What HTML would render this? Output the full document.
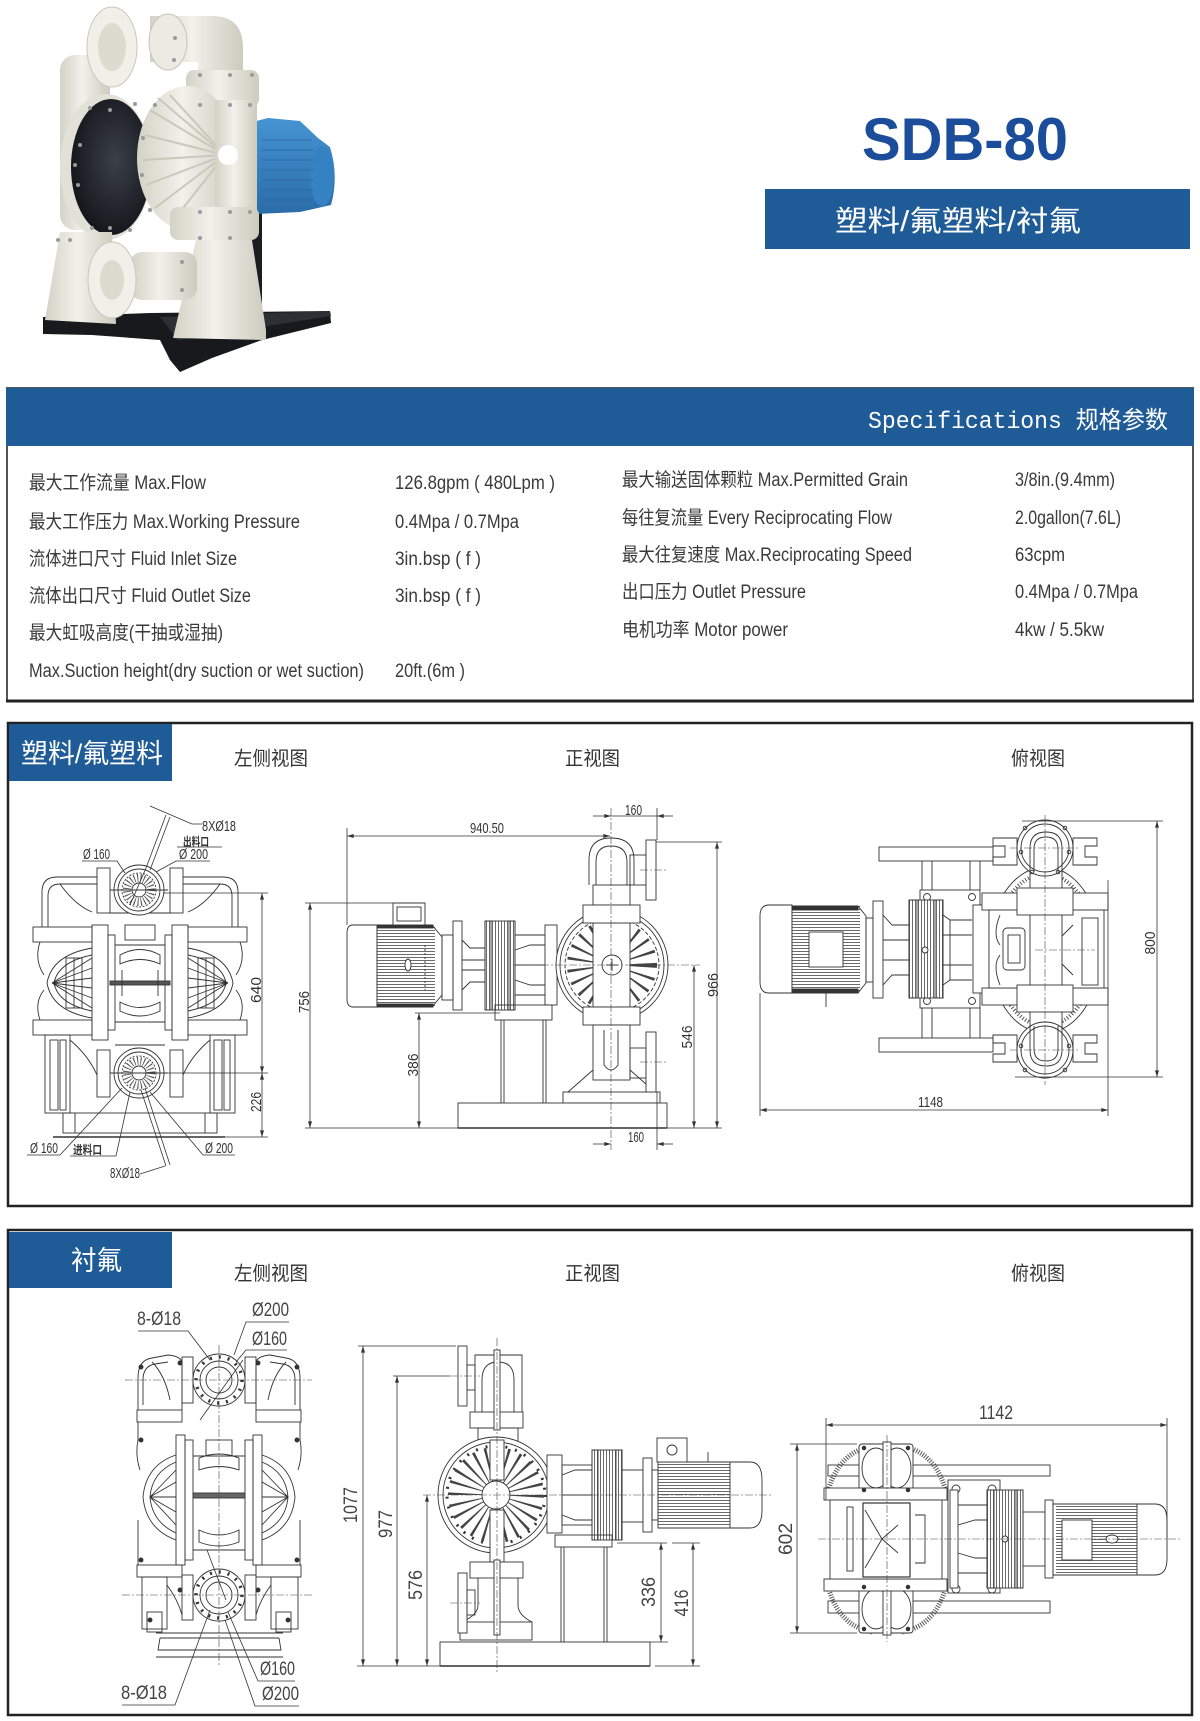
<!DOCTYPE html>
<html><head><meta charset="utf-8">
<style>
html,body{margin:0;padding:0;background:#fff;}
svg{display:block;}
.f{font-family:"Liberation Sans","Noto Sans CJK SC",sans-serif;}
.m{font-family:"Liberation Mono","Noto Sans CJK SC",monospace;}
.ln{stroke:#333;stroke-width:0.9;fill:none;}
.lw{stroke:#333;stroke-width:0.9;fill:#fff;}
.dm{stroke:#333;stroke-width:0.8;fill:none;}
.cl{stroke:#444;stroke-width:0.6;fill:none;stroke-dasharray:8 2 2 2;}
.d1{font-size:15px;fill:#333;}
.d2{font-size:19px;fill:#444;}
.sp{font-size:19px;fill:#3a3a3a;}
</style></head>
<body>
<svg width="1200" height="1721" viewBox="0 0 1200 1721" xmlns="http://www.w3.org/2000/svg">
<defs>
<marker id="ar" viewBox="0 0 10 6" refX="10" refY="3" markerWidth="8" markerHeight="4" orient="auto-start-reverse" markerUnits="userSpaceOnUse"><path d="M0,0 L10,3 L0,6 z" fill="#333"/></marker>
<pattern id="hf" width="6" height="3" patternUnits="userSpaceOnUse"><rect width="6" height="3" fill="#fff"/><line x1="0" y1="0.5" x2="6" y2="0.5" stroke="#444" stroke-width="0.8"/></pattern>
<pattern id="vf" width="3" height="6" patternUnits="userSpaceOnUse"><rect width="3" height="6" fill="#fff"/><line x1="0.5" y1="0" x2="0.5" y2="6" stroke="#444" stroke-width="0.8"/></pattern>
<linearGradient id="cream" x1="0" x2="1" y1="0" y2="0"><stop offset="0" stop-color="#d2d2c6"/><stop offset="0.45" stop-color="#f2f1ea"/><stop offset="1" stop-color="#cbcbbe"/></linearGradient>
<linearGradient id="creamv" x1="0" x2="0" y1="0" y2="1"><stop offset="0" stop-color="#eeede5"/><stop offset="1" stop-color="#cfcfc3"/></linearGradient>
<linearGradient id="blue" x1="0" x2="0" y1="0" y2="1"><stop offset="0" stop-color="#4594d2"/><stop offset="1" stop-color="#2a6ca8"/></linearGradient>
<radialGradient id="blk" cx="0.55" cy="0.45" r="0.6"><stop offset="0" stop-color="#3b4049"/><stop offset="1" stop-color="#121418"/></radialGradient>
</defs>

<rect width="1200" height="1721" fill="#fff"/>

<!-- ============ PRODUCT PHOTO ============ -->
<g>
<polygon fill="#17191c" points="43,317 150,313 330,311 331,323 262,340 212,358 180,372 170,360 160,340 92,335 43,334"/>
<polygon fill="#2c2f34" points="160,317 330,311 331,316 178,340"/>
<rect x="243" y="205" width="19" height="115" fill="#1b1d20"/>
<path d="M237,126 L268,118 L300,121 L318,138 L330,147 Q339,176 331,205 L300,212 L256,214 L237,210 Z" fill="url(#blue)"/>
<ellipse cx="322" cy="176" rx="12" ry="30" fill="#3582c2"/>
<g stroke="#2a66a0" stroke-width="0.8"><line x1="262" y1="140" x2="312" y2="140"/><line x1="262" y1="150" x2="314" y2="150"/><line x1="262" y1="160" x2="314" y2="160"/><line x1="262" y1="170" x2="314" y2="170"/><line x1="262" y1="180" x2="314" y2="180"/><line x1="262" y1="190" x2="314" y2="190"/><line x1="262" y1="200" x2="312" y2="200"/></g>
<rect x="60" y="55" width="50" height="175" rx="15" fill="url(#cream)"/>
<path d="M150,16 H212 Q243,16 243,48 V82 H198 V62 H150 Z" fill="url(#cream)"/>
<ellipse cx="168" cy="42" rx="19" ry="28" fill="#ecebe3" stroke="#c4c4b8"/>
<ellipse cx="112" cy="47" rx="25" ry="40" fill="#f0efe8" stroke="#c8c8bc"/>
<ellipse cx="112" cy="47" rx="14" ry="24" fill="#dcdbcf"/>
<rect x="186" y="70" width="73" height="37" rx="8" fill="url(#cream)"/>
<ellipse cx="106" cy="167" rx="46" ry="73" fill="#e2e1d7"/>
<ellipse cx="111" cy="167" rx="40" ry="68" fill="url(#blk)"/>
<ellipse cx="187" cy="158" rx="50" ry="72" fill="url(#cream)"/>
<g stroke="#c9c8bb" stroke-width="2"><line x1="225" y1="155" x2="150" y2="110"/><line x1="225" y1="155" x2="145" y2="135"/><line x1="225" y1="155" x2="143" y2="160"/><line x1="225" y1="155" x2="146" y2="185"/><line x1="225" y1="155" x2="155" y2="208"/><line x1="225" y1="155" x2="170" y2="95"/><line x1="225" y1="155" x2="172" y2="222"/><line x1="225" y1="155" x2="158" y2="98"/></g>
<rect x="215" y="100" width="42" height="135" fill="url(#cream)"/>
<circle cx="228" cy="155" r="10" fill="#fff"/>
<rect x="170" y="207" width="89" height="33" rx="8" fill="url(#cream)"/>
<polygon points="45,320 60,232 112,232 116,324" fill="url(#cream)"/>
<polygon points="173,338 196,240 252,240 266,330 266,340" fill="url(#cream)"/>
<rect x="130" y="252" width="67" height="48" rx="12" fill="url(#cream)"/>
<ellipse cx="112" cy="280" rx="24" ry="38" fill="#f0efe8" stroke="#c8c8bc"/>
<ellipse cx="112" cy="280" rx="12" ry="20" fill="#dcdbcf"/>
<g fill="#9a9a9a"><circle cx="175" cy="38" r="2"/><circle cx="174" cy="60" r="2"/><circle cx="200" cy="75" r="2"/><circle cx="230" cy="75" r="2"/><circle cx="252" cy="75" r="2"/><circle cx="200" cy="105" r="2"/><circle cx="230" cy="105" r="2"/><circle cx="250" cy="105" r="2"/><circle cx="155" cy="105" r="2"/><circle cx="143" cy="138" r="2"/><circle cx="142" cy="175" r="2"/><circle cx="150" cy="210" r="2"/><circle cx="110" cy="110" r="2"/><circle cx="80" cy="145" r="2"/><circle cx="78" cy="185" r="2"/><circle cx="110" cy="228" r="2"/><circle cx="200" cy="212" r="2"/><circle cx="230" cy="212" r="2"/><circle cx="250" cy="212" r="2"/><circle cx="200" cy="238" r="2"/><circle cx="230" cy="238" r="2"/><circle cx="182" cy="262" r="2"/><circle cx="182" cy="290" r="2"/><circle cx="58" cy="240" r="2"/><circle cx="70" cy="240" r="2"/><circle cx="90" cy="108" r="2"/><circle cx="75" cy="165" r="2"/><circle cx="92" cy="228" r="2"/><circle cx="130" cy="230" r="2"/><circle cx="135" cy="104" r="2"/></g>
</g>

<!-- ============ TITLE ============ -->
<text x="862" y="160" class="f" font-size="60" font-weight="bold" fill="#1b4d9a" textLength="206" lengthAdjust="spacingAndGlyphs">SDB-80</text>
<rect x="765" y="189" width="425" height="60" fill="#1f5b97"/>
<text x="835" y="231" class="f" font-size="29" fill="#fff" textLength="246" lengthAdjust="spacingAndGlyphs">塑料/氟塑料/衬氟</text>

<!-- ============ SPECIFICATIONS ============ -->
<rect x="7" y="388" width="1186" height="313" fill="#fff" stroke="#555" stroke-width="2"/>
<rect x="6" y="388" width="1188" height="58" fill="#1f5b97"/>
<line x1="6" y1="701" x2="1194" y2="701" stroke="#222" stroke-width="3"/>
<text x="868" y="428" class="m" font-size="24" fill="#fff" textLength="300" lengthAdjust="spacingAndGlyphs">Specifications 规格参数</text>

<g class="f sp">
<text x="29" y="489" textLength="177" lengthAdjust="spacingAndGlyphs">最大工作流量 Max.Flow</text>
<text x="29" y="528" textLength="271" lengthAdjust="spacingAndGlyphs">最大工作压力 Max.Working Pressure</text>
<text x="29" y="565" textLength="208" lengthAdjust="spacingAndGlyphs">流体进口尺寸 Fluid Inlet Size</text>
<text x="29" y="602" textLength="222" lengthAdjust="spacingAndGlyphs">流体出口尺寸 Fluid Outlet Size</text>
<text x="29" y="639" textLength="194" lengthAdjust="spacingAndGlyphs">最大虹吸高度(干抽或湿抽)</text>
<text x="29" y="677" textLength="335" lengthAdjust="spacingAndGlyphs">Max.Suction height(dry suction or wet suction)</text>
<text x="395" y="489" textLength="160" lengthAdjust="spacingAndGlyphs">126.8gpm ( 480Lpm )</text>
<text x="395" y="528" textLength="124" lengthAdjust="spacingAndGlyphs">0.4Mpa / 0.7Mpa</text>
<text x="395" y="565" textLength="86" lengthAdjust="spacingAndGlyphs">3in.bsp ( f )</text>
<text x="395" y="602" textLength="86" lengthAdjust="spacingAndGlyphs">3in.bsp ( f )</text>
<text x="395" y="677" textLength="70" lengthAdjust="spacingAndGlyphs">20ft.(6m )</text>
<text x="622" y="486" textLength="286" lengthAdjust="spacingAndGlyphs">最大输送固体颗粒 Max.Permitted Grain</text>
<text x="622" y="524" textLength="270" lengthAdjust="spacingAndGlyphs">每往复流量 Every Reciprocating Flow</text>
<text x="622" y="561" textLength="290" lengthAdjust="spacingAndGlyphs">最大往复速度 Max.Reciprocating Speed</text>
<text x="622" y="598" textLength="184" lengthAdjust="spacingAndGlyphs">出口压力 Outlet Pressure</text>
<text x="622" y="636" textLength="166" lengthAdjust="spacingAndGlyphs">电机功率 Motor power</text>
<text x="1015" y="486" textLength="100" lengthAdjust="spacingAndGlyphs">3/8in.(9.4mm)</text>
<text x="1015" y="524" textLength="106" lengthAdjust="spacingAndGlyphs">2.0gallon(7.6L)</text>
<text x="1015" y="561" textLength="50" lengthAdjust="spacingAndGlyphs">63cpm</text>
<text x="1015" y="598" textLength="123" lengthAdjust="spacingAndGlyphs">0.4Mpa / 0.7Mpa</text>
<text x="1015" y="636" textLength="89" lengthAdjust="spacingAndGlyphs">4kw / 5.5kw</text>
</g>

<!-- ============ SECTION 1 FRAME ============ -->
<rect x="8" y="723" width="1184" height="483" fill="#fff" stroke="#222" stroke-width="2.5"/>
<rect x="9" y="724" width="163" height="57" fill="#1f5b97"/>
<text x="21" y="763" class="f" font-size="27" fill="#fff" textLength="142" lengthAdjust="spacingAndGlyphs">塑料/氟塑料</text>
<g class="f" font-size="19.5" fill="#333">
<text x="234" y="765" textLength="74" lengthAdjust="spacingAndGlyphs">左侧视图</text>
<text x="565" y="765" textLength="55" lengthAdjust="spacingAndGlyphs">正视图</text>
<text x="1011" y="765" textLength="54" lengthAdjust="spacingAndGlyphs">俯视图</text>
</g>

<!-- ---- S1 left view ---- -->
<g class="ln">
<path d="M42,927 V892 Q42,877 57,877 H97"/>
<path d="M48,927 V896 Q48,884 60,884 H97"/>
<path d="M238,927 V892 Q238,877 223,877 H183"/>
<path d="M232,927 V896 Q232,884 220,884 H183"/>
<path d="M60,884 Q75,905 92,912"/><path d="M220,884 Q205,905 188,912"/>
<rect x="33" y="927" width="59" height="15"/>
<rect x="188" y="927" width="59" height="15"/>
<rect x="33" y="1020" width="59" height="15"/>
<rect x="188" y="1020" width="59" height="15"/>
<path d="M40,942 Q34,960 44,975 M40,1020 Q34,1002 44,990"/>
<path d="M240,942 Q246,960 236,975 M240,1020 Q246,1002 236,990"/>
<rect x="92" y="925" width="16" height="115"/>
<rect x="172" y="925" width="16" height="115"/>
<rect x="108" y="935" width="7" height="95"/>
<rect x="165" y="935" width="7" height="95"/>
<rect x="97" y="868" width="13" height="45"/>
<rect x="170" y="868" width="13" height="45"/>
<rect x="97" y="1050" width="13" height="47"/>
<rect x="170" y="1050" width="13" height="47"/>
<path d="M110,913 H170 M115,1045 H165"/>
<rect x="125" y="925" width="30" height="15"/>
<line x1="115" y1="945" x2="165" y2="945"/><line x1="115" y1="1022" x2="165" y2="1022"/>
<path d="M120,955 Q140,944 160,955 V964 Q140,955 120,964 Z"/>
<path d="M120,1002 Q140,1013 160,1002 V1011 Q140,1021 120,1011 Z"/>
<rect x="110" y="981" width="60" height="4" fill="#555"/>
<line x1="122" y1="970" x2="122" y2="996"/><line x1="158" y1="970" x2="158" y2="996"/>
<path d="M92,948 Q52,955 47,983 Q52,1011 92,1018"/>
<path d="M92,955 Q58,962 54,983 Q58,1004 92,1011"/>
<path d="M52,983 L92,958 M52,983 L92,968 M52,983 L92,978 M52,983 L92,988 M52,983 L92,998 M52,983 L92,1008"/>
<rect x="66" y="958" width="16" height="50"/>
<line x1="74" y1="958" x2="74" y2="1008"/>
<path d="M188,948 Q228,955 233,983 Q228,1011 188,1018"/>
<path d="M188,955 Q222,962 226,983 Q222,1004 188,1011"/>
<path d="M228,983 L188,958 M228,983 L188,968 M228,983 L188,978 M228,983 L188,988 M228,983 L188,998 M228,983 L188,1008"/>
<rect x="198" y="958" width="16" height="50"/>
<line x1="206" y1="958" x2="206" y2="1008"/>
<rect x="45" y="1035" width="25" height="78"/>
<rect x="50" y="1040" width="8" height="70"/><rect x="60" y="1040" width="6" height="70"/>
<rect x="210" y="1035" width="25" height="78"/>
<rect x="214" y="1040" width="8" height="70"/><rect x="224" y="1040" width="6" height="70"/>
<path d="M70,1040 Q88,1055 97,1075 M210,1040 Q192,1055 183,1075"/>
<rect x="63" y="1113" width="154" height="20"/>
<line x1="53" y1="1137" x2="225" y2="1137" stroke-width="1.4"/>
<line x1="75" y1="1113" x2="75" y2="1133"/><line x1="205" y1="1113" x2="205" y2="1133"/>
</g>
<g class="ln">
<circle cx="139" cy="890" r="25" fill="#fff"/>
<circle cx="139" cy="890" r="21"/>
<circle cx="139" cy="890" r="17" stroke-dasharray="2 1.5"/>
<circle cx="139" cy="890" r="12" stroke="#555" stroke-width="8" stroke-dasharray="1 2.2"/>
<circle cx="139" cy="890" r="7"/>
<line x1="110" y1="890" x2="168" y2="890"/>
<circle cx="139" cy="1073" r="25" fill="#fff"/>
<circle cx="139" cy="1073" r="21"/>
<circle cx="139" cy="1073" r="17" stroke-dasharray="2 1.5"/>
<circle cx="139" cy="1073" r="12" stroke="#555" stroke-width="8" stroke-dasharray="1 2.2"/>
<circle cx="139" cy="1073" r="7"/>
<line x1="110" y1="1073" x2="168" y2="1073"/>
</g>
<g class="dm">
<line x1="163" y1="893" x2="268" y2="893"/>
<line x1="163" y1="1073" x2="268" y2="1073"/>
<line x1="223" y1="1137" x2="268" y2="1137"/>
<line x1="262" y1="893" x2="262" y2="1073" marker-start="url(#ar)" marker-end="url(#ar)"/>
<line x1="262" y1="1073" x2="262" y2="1137" marker-start="url(#ar)" marker-end="url(#ar)"/>
<path d="M150,806 L192,824 H202"/>
<line x1="166" y1="815" x2="146" y2="868"/><line x1="170" y1="817" x2="150" y2="870"/>
<line x1="146" y1="868" x2="130" y2="905"/>
<path d="M177,847 H222"/>
<path d="M82,861 H117 L125,873"/>
<path d="M210,861 H176 L156,872"/>
<path d="M27,1155 H60 L122,1088"/>
<path d="M70,1156 H116 L130,1092"/>
<path d="M235,1155 H203 L150,1092"/>
<path d="M140,1174 L165,1166"/>
<line x1="166" y1="1166" x2="141" y2="1090"/><line x1="170" y1="1165" x2="145" y2="1088"/>
</g>
<g class="f d1">
<text x="202" y="831" textLength="34" lengthAdjust="spacingAndGlyphs">8XØ18</text>
<text x="183" y="846" font-size="12" font-weight="bold" textLength="26" lengthAdjust="spacingAndGlyphs">出料口</text>
<text x="83" y="859" textLength="27" lengthAdjust="spacingAndGlyphs">Ø 160</text>
<text x="179" y="859" textLength="29" lengthAdjust="spacingAndGlyphs">Ø 200</text>
<text x="30" y="1153" textLength="28" lengthAdjust="spacingAndGlyphs">Ø 160</text>
<text x="73" y="1154" font-size="12" font-weight="bold" textLength="29" lengthAdjust="spacingAndGlyphs">进料口</text>
<text x="205" y="1153" textLength="28" lengthAdjust="spacingAndGlyphs">Ø 200</text>
<text x="110" y="1178" textLength="30" lengthAdjust="spacingAndGlyphs">8XØ18</text>
<text transform="translate(261,990) rotate(-90)" text-anchor="middle" textLength="26" lengthAdjust="spacingAndGlyphs">640</text>
<text transform="translate(261,1102) rotate(-90)" text-anchor="middle" textLength="20" lengthAdjust="spacingAndGlyphs">226</text>
</g>

<!-- ---- S1 front view ---- -->
<g class="ln">
<path d="M377,925 H353 Q347,925 347,933 V999 Q347,1007 353,1007 H377 Z" fill="#fff"/>
<rect x="377" y="925" width="58" height="82" fill="url(#hf)" stroke="none"/>
<path d="M377,925 H432 L442,937 V995 L432,1007 H377 Z"/>
<rect x="377" y="925" width="56" height="3" fill="#333"/>
<rect x="377" y="1004" width="56" height="3" fill="#333"/>
<rect x="393" y="903" width="32" height="22" fill="#fff"/>
<rect x="397" y="907" width="24" height="14"/>
<ellipse cx="408" cy="965" rx="3" ry="6" fill="#fff"/>
<path d="M425,945 V990" stroke-dasharray="2 2"/>
<rect x="442" y="935" width="11" height="65"/>
<rect x="453" y="921" width="9" height="89"/>
<path d="M462,940 L470,948 H485 M462,990 L470,982 H485 M462,960 H485 M462,970 H485"/>
<rect x="485" y="921" width="30" height="89" fill="url(#vf)"/>
<rect x="485" y="921" width="6" height="89"/><rect x="509" y="921" width="6" height="89"/>
<path d="M515,935 H545 M515,995 H545 M515,950 L530,945 H545 M515,980 L530,985 H545 M515,965 H545"/>
<rect x="545" y="925" width="12" height="80"/>
<rect x="495" y="1005" width="57" height="15"/>
<line x1="501" y1="1020" x2="501" y2="1103"/><line x1="504" y1="1020" x2="504" y2="1103"/>
<line x1="543" y1="1020" x2="543" y2="1103"/><line x1="546" y1="1020" x2="546" y2="1103"/>
<circle cx="612" cy="965" r="56" fill="#fff"/>
<circle cx="612" cy="965" r="52"/>
<circle cx="612" cy="965" r="47" stroke-dasharray="4 2"/>
<circle cx="612" cy="965" r="28" stroke="#444" stroke-width="34" stroke-dasharray="1.8 6.5"/>
<circle cx="612" cy="965" r="11" fill="#fff"/>
<rect x="593" y="923" width="37" height="84" fill="#fff"/>
<circle cx="612" cy="965" r="10"/>
<path d="M606,965 H618 M612,959 V971"/>
<path d="M589,885 V860 Q589,838 611,838 Q634,838 634,860 V885" fill="#fff"/>
<path d="M596,885 V862 Q596,846 611,846 Q627,846 627,862 V885"/>
<rect x="593" y="885" width="37" height="20" fill="#fff"/>
<rect x="583" y="905" width="57" height="18" fill="#fff"/>
<rect x="583" y="1007" width="57" height="18" fill="#fff"/>
<rect x="593" y="1025" width="37" height="55" fill="#fff"/>
<path d="M604,1030 V1065 Q611,1075 618,1065 V1030"/>
<path d="M593,1070 L568,1092 M630,1070 L655,1092"/>
<rect x="563" y="1092" width="97" height="11" fill="#fff"/>
<rect x="630" y="855" width="16" height="30"/>
<rect x="646" y="840" width="10" height="60" fill="#fff"/>
<rect x="630" y="1048" width="16" height="30"/>
<rect x="646" y="1032" width="10" height="60" fill="#fff"/>
<rect x="458" y="1103" width="209" height="25" fill="#fff"/>
<line x1="458" y1="1128" x2="667" y2="1128" stroke-width="1.5"/>
</g>
<g class="cl"><line x1="611" y1="808" x2="611" y2="1150"/><line x1="513" y1="965" x2="700" y2="965"/><line x1="640" y1="870" x2="668" y2="870"/><line x1="640" y1="1062" x2="668" y2="1062"/></g>
<g class="dm">
<line x1="347" y1="828" x2="347" y2="925"/>
<line x1="347" y1="836" x2="610" y2="836" marker-start="url(#ar)" marker-end="url(#ar)"/>
<line x1="657" y1="808" x2="657" y2="840"/>
<line x1="593" y1="816" x2="611" y2="816" marker-end="url(#ar)"/>
<line x1="673" y1="816" x2="657" y2="816" marker-end="url(#ar)"/>
<line x1="611" y1="816" x2="657" y2="816"/>
<line x1="305" y1="903" x2="423" y2="903"/>
<line x1="305" y1="1128" x2="458" y2="1128"/>
<line x1="667" y1="1128" x2="722" y2="1128"/>
<line x1="310" y1="903" x2="310" y2="1128" marker-start="url(#ar)" marker-end="url(#ar)"/>
<line x1="415" y1="1013" x2="500" y2="1013"/>
<line x1="419" y1="1013" x2="419" y2="1128" marker-start="url(#ar)" marker-end="url(#ar)"/>
<line x1="656" y1="842" x2="722" y2="842"/>
<line x1="717" y1="842" x2="717" y2="1128" marker-start="url(#ar)" marker-end="url(#ar)"/>
<line x1="694" y1="965" x2="694" y2="1128" marker-start="url(#ar)" marker-end="url(#ar)"/>
<line x1="657" y1="1092" x2="657" y2="1150"/>
<line x1="593" y1="1144" x2="611" y2="1144" marker-end="url(#ar)"/>
<line x1="673" y1="1144" x2="657" y2="1144" marker-end="url(#ar)"/>
</g>
<g class="f d1">
<text x="470" y="833" textLength="34" lengthAdjust="spacingAndGlyphs">940.50</text>
<text x="625" y="815" textLength="17" lengthAdjust="spacingAndGlyphs">160</text>
<text x="628" y="1142" textLength="16" lengthAdjust="spacingAndGlyphs">160</text>
<text transform="translate(309,1002) rotate(-90)" text-anchor="middle" textLength="22" lengthAdjust="spacingAndGlyphs">756</text>
<text transform="translate(418,1065) rotate(-90)" text-anchor="middle" textLength="23" lengthAdjust="spacingAndGlyphs">386</text>
<text transform="translate(692,1037) rotate(-90)" text-anchor="middle" textLength="23" lengthAdjust="spacingAndGlyphs">546</text>
<text transform="translate(718,985) rotate(-90)" text-anchor="middle" textLength="24" lengthAdjust="spacingAndGlyphs">966</text>
</g>

<!-- ---- S1 top view ---- -->
<g class="ln">
<rect x="879" y="847" width="114" height="14"/>
<rect x="879" y="1038" width="114" height="14"/>
<path d="M922,861 V890 M932,861 V890 M970,861 V890 M980,861 V890 M922,1008 V1038 M932,1008 V1038 M970,1008 V1038 M980,1008 V1038"/>
<path d="M792,905 H769 Q760,905 760,916 V982 Q760,993 769,993 H792 Z" fill="#fff"/>
<rect x="792" y="906" width="68" height="87" fill="url(#hf)" stroke="none"/>
<path d="M792,906 H858 L866,916 V983 L858,993 H792 Z"/>
<rect x="792" y="906" width="66" height="4" fill="#333"/>
<rect x="792" y="989" width="66" height="4" fill="#333"/>
<rect x="809" y="932" width="34" height="35" fill="#fff"/>
<line x1="826" y1="993" x2="826" y2="1007"/>
<rect x="866" y="918" width="7" height="64"/>
<rect x="873" y="901" width="10" height="97" fill="#fff"/>
<path d="M883,915 L892,925 H909 M883,985 L892,975 H909 M883,940 H909 M883,960 H909"/>
<rect x="920" y="890" width="60" height="118" fill="#fff"/>
<circle cx="927" cy="897" r="3.5"/><circle cx="972" cy="897" r="3.5"/><circle cx="927" cy="1001" r="3.5"/><circle cx="972" cy="1001" r="3.5"/>
<path d="M943,915 L950,920 H972 M943,985 L950,980 H972 M943,935 H972 M943,965 H972 M950,920 V980"/>
<rect x="909" y="900" width="34" height="98" fill="url(#vf)"/>
<rect x="909" y="900" width="8" height="98"/><rect x="935" y="900" width="8" height="98"/>
<circle cx="925" cy="950" r="3" fill="#fff"/>
<ellipse cx="1045" cy="950" rx="56" ry="83"/>
<ellipse cx="1045" cy="950" rx="50" ry="76" stroke="#555" stroke-width="4" stroke-dasharray="1 2"/>
<rect x="973" y="905" width="16" height="88" fill="#fff"/>
<rect x="982" y="893" width="126" height="17" fill="#fff"/>
<rect x="982" y="988" width="126" height="17" fill="#fff"/>
<rect x="989" y="910" width="115" height="78" fill="#fff"/>
<path d="M1000,915 Q992,935 1000,945 M1000,985 Q992,965 1000,955"/>
<rect x="1003" y="928" width="22" height="42" rx="4"/>
<rect x="1008" y="935" width="12" height="28"/>
<rect x="1082" y="918" width="16" height="67"/>
<path d="M1073,925 L1048,950 L1073,975 M1062,925 L1048,950 L1062,975"/>
<rect x="1030" y="832" width="32" height="236" fill="#fff"/>
<rect x="1017" y="888" width="56" height="27" fill="#fff"/>
<rect x="1017" y="985" width="56" height="27" fill="#fff"/>
<path d="M993,838 H1017 V865 H993 V857 H1005 V846 H993 Z"/>
<path d="M1097,838 H1073 V865 H1097 V857 H1085 V846 H1097 Z"/>
<path d="M993,1035 H1017 V1062 H993 V1054 H1005 V1043 H993 Z"/>
<path d="M1097,1035 H1073 V1062 H1097 V1054 H1085 V1043 H1097 Z"/>
<circle cx="1045" cy="848" r="28" fill="#fff"/>
<circle cx="1045" cy="848" r="24"/>
<path d="M1030,872 V848 Q1030,832 1046,832 Q1062,832 1062,848 V872"/>
<path d="M1034,872 V849 Q1034,837 1046,837 Q1058,837 1058,849 V872"/>
<circle cx="1025" cy="828" r="1.8"/><circle cx="1065" cy="828" r="1.8"/><circle cx="1021" cy="852" r="1.8"/><circle cx="1069" cy="852" r="1.8"/><circle cx="1032" cy="872" r="1.8"/><circle cx="1058" cy="872" r="1.8"/>
<circle cx="1045" cy="1050" r="28" fill="#fff"/>
<circle cx="1045" cy="1050" r="24"/>
<path d="M1030,1026 V1050 Q1030,1066 1046,1066 Q1062,1066 1062,1050 V1026"/>
<path d="M1034,1026 V1049 Q1034,1061 1046,1061 Q1058,1061 1058,1049 V1026"/>
<circle cx="1025" cy="1070" r="1.8"/><circle cx="1065" cy="1070" r="1.8"/><circle cx="1021" cy="1046" r="1.8"/><circle cx="1069" cy="1046" r="1.8"/>
</g>
<g class="cl"><line x1="1045" y1="815" x2="1045" y2="1085"/><line x1="1035" y1="950" x2="1095" y2="950"/><line x1="1010" y1="848" x2="1080" y2="848"/><line x1="1010" y1="1050" x2="1080" y2="1050"/></g>
<g class="dm">
<line x1="1022" y1="821" x2="1163" y2="821"/>
<line x1="1015" y1="1077" x2="1163" y2="1077"/>
<line x1="1157" y1="821" x2="1157" y2="1077" marker-start="url(#ar)" marker-end="url(#ar)"/>
<line x1="760" y1="993" x2="760" y2="1116"/>
<line x1="1108" y1="880" x2="1108" y2="1116"/>
<line x1="760" y1="1110" x2="1108" y2="1110" marker-start="url(#ar)" marker-end="url(#ar)"/>
</g>
<g class="f d1">
<text x="918" y="1107" textLength="25" lengthAdjust="spacingAndGlyphs">1148</text>
<text transform="translate(1155,943) rotate(-90)" text-anchor="middle" textLength="23" lengthAdjust="spacingAndGlyphs">800</text>
</g>

<!-- ============ SECTION 2 FRAME ============ -->
<rect x="8" y="1230" width="1184" height="485" fill="none" stroke="#222" stroke-width="2.5"/>
<rect x="9" y="1232" width="163" height="56" fill="#1f5b97"/>
<text x="71" y="1270" class="f" font-size="27" fill="#fff" textLength="51" lengthAdjust="spacingAndGlyphs">衬氟</text>
<g class="f" font-size="19.5" fill="#333">
<text x="234" y="1280" textLength="74" lengthAdjust="spacingAndGlyphs">左侧视图</text>
<text x="565" y="1280" textLength="55" lengthAdjust="spacingAndGlyphs">正视图</text>
<text x="1011" y="1280" textLength="54" lengthAdjust="spacingAndGlyphs">俯视图</text>
</g>

<!-- ---- S2 left view ---- -->
<g class="ln">
<path d="M138,1410 V1378 Q138,1360 152,1358 L168,1355 Q180,1356 182,1362 V1410"/>
<path d="M143,1405 V1380 Q143,1366 155,1364 L168,1362"/>
<path d="M300,1410 V1378 Q300,1360 286,1358 L270,1355 Q258,1356 256,1362 V1410"/>
<path d="M295,1405 V1380 Q295,1366 283,1364 L270,1362"/>
<path d="M152,1362 Q165,1375 170,1400 M286,1362 Q273,1375 268,1400"/>
<rect x="182" y="1357" width="11" height="46"/>
<rect x="245" y="1357" width="11" height="46"/>
<rect x="137" y="1410" width="45" height="12"/>
<rect x="256" y="1410" width="45" height="12"/>
<path d="M138,1422 V1440 Q135,1455 140,1470 M300,1422 V1440 Q303,1455 298,1470"/>
<rect x="176" y="1435" width="9" height="130"/>
<rect x="253" y="1435" width="9" height="130"/>
<rect x="185" y="1440" width="8" height="120"/>
<rect x="245" y="1440" width="8" height="120"/>
<rect x="206" y="1440" width="26" height="16"/>
<path d="M199,1458 Q219,1450 239,1458 V1470 Q219,1463 199,1470 Z"/>
<path d="M199,1530 Q219,1540 239,1530 V1542 Q219,1550 199,1542 Z"/>
<rect x="193" y="1493" width="52" height="5" fill="#666"/>
<line x1="193" y1="1456" x2="245" y2="1456"/><line x1="193" y1="1550" x2="245" y2="1550"/>
<path d="M176,1455 Q146,1465 143,1497 Q146,1529 176,1540"/>
<path d="M176,1462 Q152,1472 150,1497 Q152,1522 176,1533"/>
<path d="M150,1497 L176,1470 M150,1497 L176,1482 M150,1497 L176,1497 M150,1497 L176,1512 M150,1497 L176,1525"/>
<path d="M262,1455 Q292,1465 295,1497 Q292,1529 262,1540"/>
<path d="M262,1462 Q286,1472 288,1497 Q286,1522 262,1533"/>
<path d="M288,1497 L262,1470 M288,1497 L262,1482 M288,1497 L262,1497 M288,1497 L262,1512 M288,1497 L262,1525"/>
<path d="M138,1520 V1565 M300,1520 V1565"/>
<rect x="137" y="1565" width="45" height="12"/>
<rect x="256" y="1565" width="45" height="12"/>
<rect x="182" y="1575" width="11" height="45"/>
<rect x="245" y="1575" width="11" height="45"/>
<rect x="142" y="1577" width="25" height="52"/>
<rect x="271" y="1577" width="27" height="52"/>
<path d="M167,1585 Q178,1600 182,1615 M271,1585 Q260,1600 256,1615"/>
<rect x="147" y="1612" width="15" height="20"/><rect x="276" y="1612" width="15" height="20"/>
<path d="M156,1633 H283 M160,1638 L158,1650 H281 L279,1638 M156,1657 H283"/>
<line x1="160" y1="1638" x2="279" y2="1638"/>
<g fill="#333"><circle cx="141" cy="1367" r="2"/><circle cx="297" cy="1367" r="2"/><circle cx="141" cy="1440" r="2"/><circle cx="297" cy="1440" r="2"/><circle cx="141" cy="1560" r="2"/><circle cx="297" cy="1560" r="2"/><circle cx="180" cy="1363" r="2"/><circle cx="258" cy="1363" r="2"/><circle cx="180" cy="1590" r="2"/><circle cx="258" cy="1590" r="2"/><circle cx="150" cy="1620" r="2"/><circle cx="288" cy="1620" r="2"/></g>
<circle cx="219" cy="1380" r="26" fill="#fff"/>
<circle cx="219" cy="1380" r="19"/>
<circle cx="219" cy="1380" r="13"/>
<circle cx="219" cy="1380" r="23" stroke-width="3.5" stroke-dasharray="2 7"/>
<circle cx="219" cy="1595" r="26" fill="#fff"/>
<circle cx="219" cy="1595" r="19"/>
<circle cx="219" cy="1595" r="13"/>
<circle cx="219" cy="1595" r="23" stroke-width="3.5" stroke-dasharray="2 7"/>
</g>
<g class="cl"><line x1="125" y1="1380" x2="312" y2="1380"/><line x1="122" y1="1595" x2="312" y2="1595"/><line x1="219" y1="1345" x2="219" y2="1666"/></g>
<g class="dm">
<path d="M138,1331 H188 L210,1360"/>
<path d="M289,1322 H246 L234,1355"/>
<path d="M287,1350 H246 L236,1362"/>
<line x1="243" y1="1360" x2="200" y2="1420"/>
<path d="M295,1681 H258 L228,1612"/>
<path d="M299,1706 H255 L225,1620"/>
<path d="M122,1705 H175 L210,1610"/>
<line x1="207" y1="1550" x2="226" y2="1600"/>
</g>
<g class="f d2">
<text x="137" y="1325" textLength="44" lengthAdjust="spacingAndGlyphs">8-Ø18</text>
<text x="252" y="1316" textLength="37" lengthAdjust="spacingAndGlyphs">Ø200</text>
<text x="252" y="1345" textLength="35" lengthAdjust="spacingAndGlyphs">Ø160</text>
<text x="260" y="1675" textLength="35" lengthAdjust="spacingAndGlyphs">Ø160</text>
<text x="262" y="1700" textLength="37" lengthAdjust="spacingAndGlyphs">Ø200</text>
<text x="121" y="1699" textLength="46" lengthAdjust="spacingAndGlyphs">8-Ø18</text>
</g>

<!-- ---- S2 front view ---- -->
<g class="ln">
<rect x="458" y="1346" width="9" height="60" fill="#fff"/>
<rect x="467" y="1365" width="8" height="25"/>
<path d="M475,1412 V1355 H522 V1412"/>
<path d="M482,1412 V1380 Q482,1362 498,1362 Q514,1362 514,1380 V1412"/>
<rect x="470" y="1412" width="53" height="16" fill="#fff"/>
<rect x="478" y="1428" width="40" height="14"/>
<circle cx="496" cy="1495" r="58" fill="#fff"/>
<circle cx="496" cy="1495" r="53"/>
<circle cx="496" cy="1495" r="49" stroke-width="3" stroke-dasharray="2 8"/>
<circle cx="496" cy="1495" r="31" stroke="#444" stroke-width="34" stroke-dasharray="1.8 6.3"/>
<circle cx="496" cy="1495" r="14" fill="#fff"/>
<rect x="490" y="1440" width="14" height="40" fill="#fff"/>
<rect x="490" y="1510" width="14" height="52" fill="#fff"/>
<rect x="470" y="1562" width="53" height="16" fill="#fff"/>
<path d="M478,1578 V1605 Q478,1615 462,1622 M518,1578 V1605 Q518,1615 532,1622"/>
<rect x="460" y="1622" width="72" height="18"/>
<rect x="458" y="1573" width="9" height="60" fill="#fff"/>
<rect x="467" y="1590" width="8" height="25"/>
<rect x="494" y="1350" width="6" height="80" fill="#fff"/>
<rect x="494" y="1560" width="6" height="75" fill="#fff"/>
<rect x="547" y="1455" width="15" height="78" fill="#fff"/>
<rect x="562" y="1465" width="31" height="60"/>
<path d="M562,1475 L575,1470 H593 M562,1515 L575,1520 H593 M562,1495 H593"/>
<rect x="592" y="1450" width="30" height="90" fill="url(#vf)"/>
<rect x="592" y="1450" width="6" height="90"/><rect x="616" y="1450" width="6" height="90"/>
<rect x="555" y="1535" width="57" height="12"/>
<line x1="561" y1="1547" x2="561" y2="1642"/><line x1="564" y1="1547" x2="564" y2="1642"/>
<line x1="604" y1="1547" x2="604" y2="1642"/><line x1="607" y1="1547" x2="607" y2="1642"/>
<rect x="622" y="1470" width="21" height="52"/>
<rect x="643" y="1458" width="9" height="74" fill="#fff"/>
<rect x="652" y="1470" width="6" height="50"/>
<rect x="658" y="1464" width="72" height="62" fill="url(#hf)" stroke="none"/>
<path d="M658,1462 H730 V1528 H658 Z"/>
<path d="M730,1462 H750 Q762,1462 762,1480 V1510 Q762,1528 750,1528 H730"/>
<rect x="657" y="1438" width="30" height="24" fill="#fff"/>
<circle cx="672" cy="1450" r="5"/>
<line x1="708" y1="1452" x2="708" y2="1462"/>
<rect x="440" y="1642" width="210" height="24" fill="#fff"/>
<line x1="440" y1="1666" x2="650" y2="1666" stroke-width="1.4"/>
</g>
<g class="cl"><line x1="423" y1="1495" x2="773" y2="1495"/><line x1="497" y1="1338" x2="497" y2="1674"/><line x1="450" y1="1376" x2="480" y2="1376"/><line x1="450" y1="1603" x2="480" y2="1603"/></g>
<g class="dm">
<line x1="358" y1="1346" x2="456" y2="1346"/>
<line x1="393" y1="1376" x2="450" y2="1376"/>
<line x1="357" y1="1666" x2="440" y2="1666"/>
<line x1="363" y1="1346" x2="363" y2="1666" marker-start="url(#ar)" marker-end="url(#ar)"/>
<line x1="397" y1="1376" x2="397" y2="1666" marker-start="url(#ar)" marker-end="url(#ar)"/>
<line x1="427" y1="1495" x2="427" y2="1666" marker-start="url(#ar)" marker-end="url(#ar)"/>
<line x1="617" y1="1543" x2="667" y2="1543"/>
<line x1="672" y1="1543" x2="700" y2="1543"/>
<line x1="650" y1="1642" x2="668" y2="1642"/>
<line x1="655" y1="1666" x2="700" y2="1666"/>
<line x1="661" y1="1543" x2="661" y2="1642" marker-start="url(#ar)" marker-end="url(#ar)"/>
<line x1="693" y1="1543" x2="693" y2="1666" marker-start="url(#ar)" marker-end="url(#ar)"/>
</g>
<g class="f d2">
<text transform="translate(357,1505) rotate(-90)" text-anchor="middle" textLength="36" lengthAdjust="spacingAndGlyphs">1077</text>
<text transform="translate(392,1524) rotate(-90)" text-anchor="middle" textLength="28" lengthAdjust="spacingAndGlyphs">977</text>
<text transform="translate(422,1585) rotate(-90)" text-anchor="middle" textLength="30" lengthAdjust="spacingAndGlyphs">576</text>
<text transform="translate(655,1592) rotate(-90)" text-anchor="middle" textLength="30" lengthAdjust="spacingAndGlyphs">336</text>
<text transform="translate(688,1603) rotate(-90)" text-anchor="middle" textLength="27" lengthAdjust="spacingAndGlyphs">416</text>
</g>

<!-- ---- S2 top view ---- -->
<g class="ln">
<rect x="828" y="1465" width="222" height="11"/>
<rect x="828" y="1601" width="222" height="12"/>
<path d="M829,1488 Q840,1452 872,1446 M945,1488 Q934,1452 902,1446" stroke-width="5" stroke="#555" stroke-dasharray="1 1.5"/>
<path d="M829,1590 Q840,1626 872,1632 M945,1590 Q934,1626 902,1632" stroke-width="5" stroke="#555" stroke-dasharray="1 1.5"/>
<rect x="859" y="1444" width="54" height="50" rx="3" fill="#fff"/>
<ellipse cx="876" cy="1468" rx="14" ry="20"/><ellipse cx="897" cy="1468" rx="14" ry="20"/>
<rect x="883" y="1442" width="8" height="52" fill="#fff"/>
<rect x="859" y="1583" width="54" height="50" rx="3" fill="#fff"/>
<ellipse cx="876" cy="1609" rx="14" ry="20"/><ellipse cx="897" cy="1609" rx="14" ry="20"/>
<rect x="883" y="1583" width="8" height="52" fill="#fff"/>
<rect x="824" y="1488" width="123" height="12" fill="#fff"/>
<rect x="824" y="1579" width="123" height="12" fill="#fff"/>
<rect x="830" y="1500" width="112" height="79" fill="#fff"/>
<rect x="847" y="1507" width="6" height="64"/>
<rect x="863" y="1503" width="47" height="74" stroke-width="1.2"/>
<path d="M865,1510 L882,1539 L898,1525 M865,1568 L882,1539 M898,1553 L882,1539"/>
<path d="M915,1515 H925 V1563 H915"/>
<rect x="948" y="1480" width="52" height="113" fill="#fff"/>
<circle cx="956" cy="1489" r="4"/><circle cx="956" cy="1589" r="4"/><circle cx="992" cy="1489" r="4"/><circle cx="992" cy="1589" r="4"/>
<rect x="950" y="1490" width="8" height="98" fill="#fff"/>
<path d="M958,1505 H987 M958,1573 H987 M958,1525 L975,1520 H987 M958,1553 L975,1558 H987"/>
<rect x="987" y="1490" width="36" height="98" fill="url(#vf)"/>
<rect x="987" y="1490" width="7" height="98"/><rect x="1016" y="1490" width="7" height="98"/>
<circle cx="1005" cy="1539" r="3" fill="#fff"/>
<rect x="1023" y="1512" width="22" height="54"/>
<rect x="1045" y="1500" width="8" height="78" fill="#fff"/>
<rect x="1056" y="1506" width="81" height="67" fill="url(#hf)" stroke="none"/>
<path d="M1053,1504 H1137 V1575 H1053 Z"/>
<path d="M1137,1504 H1155 Q1167,1504 1167,1520 V1559 Q1167,1575 1155,1575 H1137"/>
<rect x="1062" y="1520" width="30" height="40" fill="#fff"/>
<ellipse cx="1112" cy="1539" rx="6" ry="4" fill="#fff"/>
<g fill="#333"><circle cx="864" cy="1448" r="1.8"/><circle cx="908" cy="1448" r="1.8"/><circle cx="864" cy="1490" r="1.8"/><circle cx="908" cy="1490" r="1.8"/><circle cx="864" cy="1587" r="1.8"/><circle cx="908" cy="1587" r="1.8"/><circle cx="864" cy="1629" r="1.8"/><circle cx="908" cy="1629" r="1.8"/></g>
</g>
<g class="cl"><line x1="818" y1="1539" x2="1180" y2="1539"/><line x1="887" y1="1435" x2="887" y2="1642"/></g>
<g class="dm">
<line x1="826" y1="1418" x2="826" y2="1500"/>
<line x1="1167" y1="1418" x2="1167" y2="1540"/>
<line x1="826" y1="1425" x2="1167" y2="1425" marker-start="url(#ar)" marker-end="url(#ar)"/>
<line x1="790" y1="1444" x2="857" y2="1444"/>
<line x1="790" y1="1633" x2="857" y2="1633"/>
<line x1="797" y1="1444" x2="797" y2="1633" marker-start="url(#ar)" marker-end="url(#ar)"/>
</g>
<g class="f d2">
<text x="979" y="1419" textLength="34" lengthAdjust="spacingAndGlyphs">1142</text>
<text transform="translate(792,1539) rotate(-90)" text-anchor="middle" textLength="32" lengthAdjust="spacingAndGlyphs">602</text>
</g>

</svg>
</body></html>
